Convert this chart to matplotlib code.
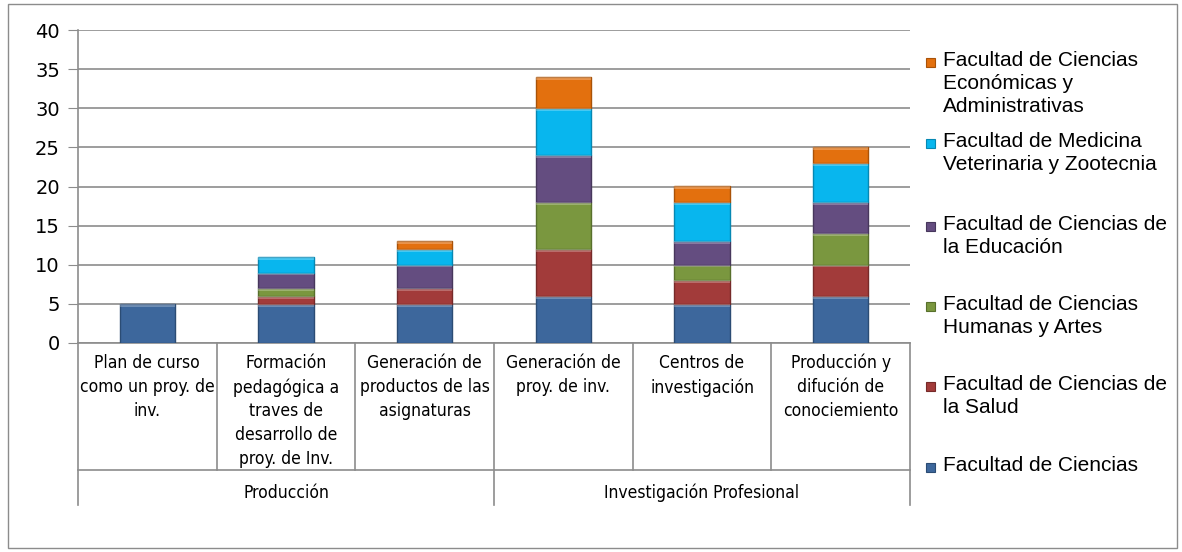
import numpy as np
import matplotlib
matplotlib.use("Agg")
import matplotlib.pyplot as plt
from matplotlib.patches import Rectangle

# datos
categorias = ["Plan de curso\ncomo un proy. de\ninv.",
              "Formación\npedagógica a\ntraves de\ndesarrollo de\nproy. de Inv.",
              "Generación de\nproductos de las\nasignaturas",
              "Generación de\nproy. de inv.",
              "Centros de\ninvestigación",
              "Producción y\ndifución de\nconociemiento"]
grupos = ["Producción", "Investigación Profesional"]
grupo_tam = [3, 3]

facultades = ["Facultad de Ciencias",
              "Facultad de Ciencias de\nla Salud",
              "Facultad de Ciencias\nHumanas y Artes",
              "Facultad de Ciencias de\nla Educación",
              "Facultad de Medicina\nVeterinaria y Zootecnia",
              "Facultad de Ciencias\nEconómicas y\nAdministrativas"]
ciencias   = [5, 5, 5, 6, 5, 6]
salud      = [0, 1, 2, 6, 3, 4]
humanas    = [0, 1, 0, 6, 2, 4]
educacion  = [0, 2, 3, 6, 3, 4]
medicina   = [0, 2, 2, 6, 5, 5]
economicas = [0, 0, 1, 4, 2, 2]
series = [ciencias, salud, humanas, educacion, medicina, economicas]

colores = ["#3D679C", "#A23B3A", "#7A973F", "#644D80", "#08B6EE", "#E3700E"]
bordes  = ["#2B4C74", "#762A29", "#58702C", "#47375C", "#0688B3", "#A95208"]

W, H = 1182, 552
fig = plt.figure(figsize=(W/100, H/100), dpi=100)
fig.patches.append(Rectangle((8/W, 4/H), 1169/W, 544/H, transform=fig.transFigure,
                             fill=False, edgecolor="#8C8C8C", linewidth=1))

ax = fig.add_axes([78/W, 1-343/H, 832/W, 313/H])
x = np.arange(len(categorias))
base = np.zeros(len(categorias))
for s, c, e in zip(series, colores, bordes):
    v = np.array(s, dtype=float)
    m = v > 0
    ax.bar(x[m], v[m], width=0.4, bottom=base[m], color=c, edgecolor=e, linewidth=1, zorder=3)
    # brillo superior
    h = np.minimum(v[m], 0.35)
    ax.bar(x[m], h, width=0.4, bottom=base[m] + v[m] - h,
           color="white", alpha=0.25, linewidth=0, zorder=4)
    base += v

ax.set_xlim(-0.5, len(categorias) - 0.5)
ax.set_ylim(0, 40)
ax.set_yticks(range(0, 41, 5))
ax.grid(axis="y", color="#8C8C8C", linewidth=1.2, zorder=0)
for sp in ["top", "right"]:
    ax.spines[sp].set_visible(False)
for sp in ["left", "bottom"]:
    ax.spines[sp].set_color("#8C8C8C")
    ax.spines[sp].set_linewidth(1.2)
ax.tick_params(axis="y", length=7, color="#8C8C8C", labelsize=14, pad=6)
ax.set_xticks([])

trans = ax.get_xaxis_transform()
# separadores de categorias
bordes_grupo = [-0.5] + [-0.5 + sum(grupo_tam[:k + 1]) for k in range(len(grupo_tam))]
for i in range(len(categorias) + 1):
    fondo = -0.517 if (i - 0.5) in bordes_grupo else -0.406
    ax.plot([i - 0.5, i - 0.5], [0, fondo], transform=trans, color="#8C8C8C",
            linewidth=1.2, clip_on=False)
ax.plot([-0.5, len(categorias) - 0.5], [-0.406, -0.406], transform=trans,
        color="#8C8C8C", linewidth=1.2, clip_on=False)

for i, lab in enumerate(categorias):
    ax.text(i, -0.035, lab, transform=trans, ha="center", va="top", fontsize=12.5,
            fontstretch="condensed", linespacing=1.42)
ini = 0
for g, n in zip(grupos, grupo_tam):
    ax.text(ini + (n - 1) / 2, -0.48, g, transform=trans, ha="center", va="center",
            fontsize=12.5, fontstretch="condensed")
    ini += n

# leyenda
ley_y = [62, 143, 226, 306, 386, 467]
for k, yy in enumerate(ley_y):
    idx = len(facultades) - 1 - k
    fig.patches.append(Rectangle((926/W, 1-(yy+4.5)/H), 9/W, 9/H, transform=fig.transFigure,
                                 facecolor=colores[idx], edgecolor=bordes[idx], linewidth=0.8))
    fig.text(943/W, 1-(yy-11)/H, facultades[idx], ha="left", va="top", fontsize=15,
             family=["Liberation Sans", "DejaVu Sans"], linespacing=1.25)

fig.savefig("out.png", dpi=100)
